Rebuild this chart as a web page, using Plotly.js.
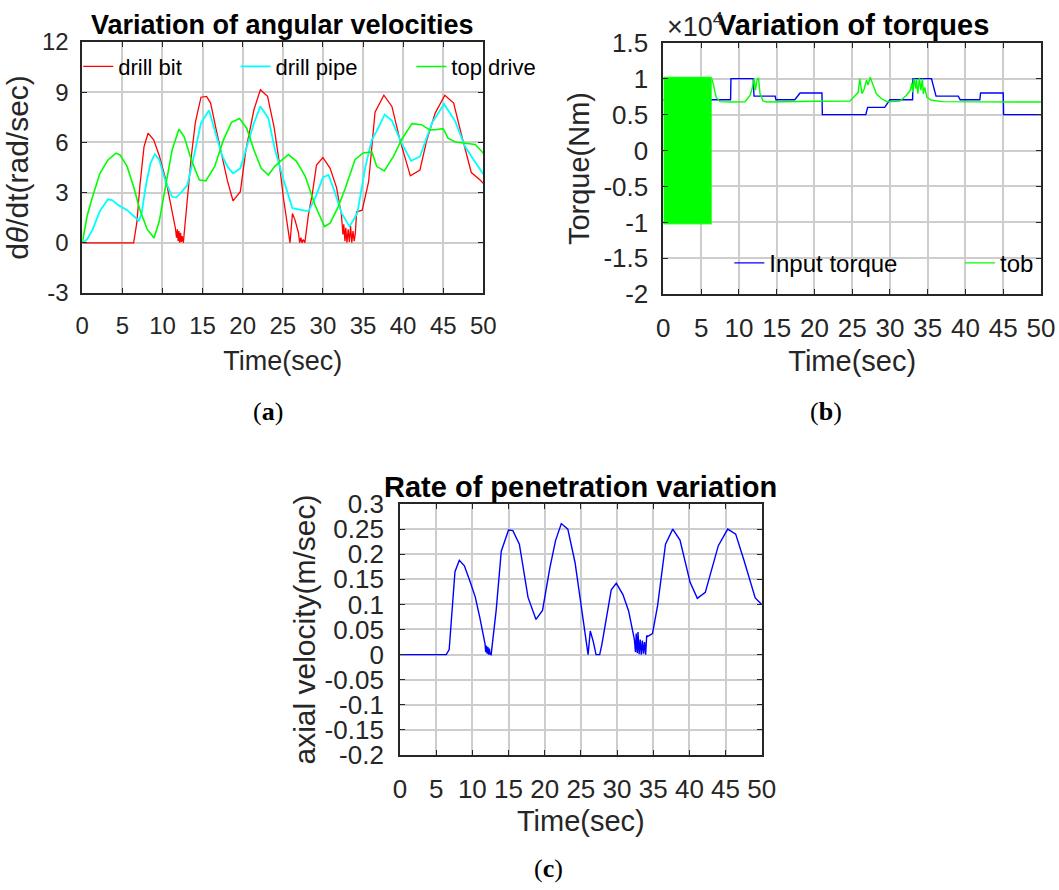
<!DOCTYPE html>
<html>
<head>
<meta charset="utf-8">
<script src="https://cdn.plot.ly/plotly-3.0.1.min.js"></script>
<style>
html,body{margin:0;padding:0;background:#ffffff;}
#chart{width:1059px;height:890px;}
</style>
</head>
<body>
<div id="chart"></div>
<script>
// ---------- Panel (a): angular velocities (rad/sec) ----------
const bitT = [0, 6.4, 6.8, 7.2, 7.7, 8.2, 8.9, 9.6, 10.4, 11.0,
  11.6, 11.75, 11.85, 11.95, 12.05, 12.15, 12.25, 12.35, 12.45, 12.6,
  13.1, 13.6, 14.1, 14.8, 15.5, 16.0, 16.7, 17.4, 18.1, 18.8,
  19.7, 20.4, 21.4, 22.2, 23.1, 23.9, 24.5, 25.1, 25.6, 25.9,
  26.2, 26.5, 26.95, 27.1, 27.25, 27.4, 27.55, 27.75, 28.2, 28.7,
  29.2, 30.0, 30.9, 31.7, 32.3, 32.5, 32.6, 32.75, 32.85, 33.0,
  33.15, 33.3, 33.45, 33.6, 33.75, 33.9, 34.05, 34.2, 34.9, 35.7,
  36.5, 37.6, 38.6, 39.6, 40.9, 42.1, 42.9, 44.0, 45.2, 46.3,
  47.3, 48.5, 49.6, 50];
const bitV = [0, 0, 1.2, 3.5, 5.75, 6.55, 6.15, 5.2, 3.8, 2.4,
  0.9, 0.3, 0.8, 0.1, 0.7, 0, 0.6, 0.05, 0.4, 0,
  2.6, 5.2, 7.2, 8.7, 8.75, 8.35, 6.75, 5.2, 3.7, 2.5,
  3.05, 5.55, 7.95, 9.15, 8.75, 6.95, 5.0, 2.6, 0.9, 0,
  1.75, 1.4, 0.6, 0, 0.3, 0, 0.2, 0, 1.7, 3.0,
  4.65, 5.1, 4.45, 3.3, 1.7, 0.5, 1.1, 0.1, 0.9, 0,
  0.8, 0.05, 1.0, 0, 0.7, 0.1, 0.6, 1.85, 1.95, 3.65,
  7.8, 8.82, 8.15, 6.15, 4.0, 4.35, 6.05, 7.75, 8.82, 8.35,
  6.4, 4.2, 3.75, 3.55];

const pipeT = [0, 0.6, 1.3, 2.2, 3.2, 3.7, 4.5, 5.6, 6.4, 7.05,
  7.4, 7.9, 8.5, 9.05, 9.6, 10.4, 11.2, 11.7, 12.4, 13.1,
  14.0, 14.8, 15.8, 16.5, 17.4, 18.1, 18.8, 19.7, 20.5, 21.4,
  22.2, 23.2, 24.0, 25.1, 26.2, 27.3, 28.2, 29.1, 30.0, 30.7,
  31.5, 32.3, 33.3, 33.8, 34.3, 35.3, 36.1, 36.7, 37.7, 38.6,
  39.8, 41.0, 42.1, 43.6, 45.1, 46.5, 47.7, 48.6, 49.6, 50];
const pipeV = [0, 0.2, 0.8, 1.9, 2.6, 2.55, 2.25, 1.95, 1.6, 1.32,
  1.75, 3.35, 4.75, 5.3, 4.95, 3.65, 2.75, 2.7, 3.05, 3.45,
  5.35, 7.15, 7.92, 6.75, 5.25, 4.55, 4.15, 4.45, 5.75, 7.15,
  8.15, 7.45, 5.6, 3.75, 2.07, 1.95, 1.88, 2.75, 3.9, 4.05,
  3.0, 1.8, 0.98, 1.35, 1.8, 4.55, 6.15, 6.67, 7.66, 7.3,
  5.96, 4.9, 5.16, 7.16, 8.3, 7.26, 5.77, 5.1, 4.37, 4.1];

const topT = [0, 0.6, 1.3, 2.2, 3.2, 4.2, 4.7, 5.6, 6.4, 7.2,
  8.1, 8.95, 9.6, 10.4, 11.2, 12.05, 12.7, 13.6, 14.6, 15.4,
  16.5, 17.6, 18.6, 19.6, 20.5, 21.4, 22.3, 23.2, 24.0, 24.9,
  25.7, 26.7, 27.8, 29.0, 30.2, 30.9, 31.9, 32.8, 34.0, 35.0,
  36.1, 36.7, 37.65, 38.8, 39.8, 41.1, 42.3, 43.3, 44.0, 45.0,
  45.6, 46.5, 47.9, 49.0, 50];
const topV = [0, 1.6, 2.8, 4.15, 4.95, 5.36, 5.25, 4.55, 3.35, 1.95,
  0.8, 0.29, 1.3, 3.35, 5.55, 6.79, 6.35, 4.95, 3.75, 3.7,
  4.55, 6.15, 7.2, 7.43, 6.85, 5.55, 4.45, 4.05, 4.57, 4.95,
  5.27, 4.87, 3.97, 2.27, 0.97, 1.17, 2.15, 3.27, 4.97, 5.37,
  5.43, 4.57, 4.3, 5.16, 6.16, 7.12, 7.06, 6.75, 6.76, 6.82,
  6.25, 6.02, 5.96, 5.87, 5.35];

// ---------- Panel (b): torques (Nm) ----------
const inputT = [0, 8.9, 8.95, 11.9, 12.0, 14.8, 14.9, 17.4, 18.1, 21.0,
  21.05, 26.8, 27.05, 29.3, 30.0, 33.0, 33.05, 35.5, 36.1, 39.05,
  39.3, 41.9, 42.0, 45.0, 45.05, 50];
const inputV = [7060, 7060, 10000, 10000, 7570, 7570, 7060, 7060, 8000, 8000,
  5000, 5000, 6000, 6000, 7060, 7060, 10000, 10000, 7570, 7570,
  7060, 7060, 8000, 8000, 5000, 5000];

// start-up torque-on-bit burst (oscillation envelope)
const burstT = [0, 6.4];
const burstHigh = [10200, 10200];
const burstLow = [-10200, -10200];

const tobT = [6.4, 6.6, 7.0, 7.5, 9.0, 10.8, 11.5, 11.8, 12.0, 12.2,
  12.4, 12.6, 12.8, 13.2, 13.7, 16.0, 20.0, 24.7, 25.2, 25.8,
  26.0, 26.3, 26.6, 26.9, 27.1, 27.4, 27.7, 28.2, 28.9, 29.6,
  31.3, 32.2, 32.7, 32.9, 33.0, 33.2, 33.4, 33.5, 33.7, 33.9,
  34.1, 34.3, 34.4, 34.6, 34.9, 35.5, 37.0, 42.0, 46.0, 50];
const tobV = [10000, 9300, 7400, 6800, 6750, 6780, 7700, 8800, 10000, 8400,
  9800, 10100, 7900, 6900, 6750, 6800, 6850, 6870, 7400, 8100,
  10000, 7900, 8600, 9800, 9100, 10200, 9300, 7900, 7200, 6800,
  6870, 7700, 8400, 9400, 8100, 10000, 8600, 9900, 7900, 10100,
  8400, 10000, 7900, 8800, 7400, 7000, 6800, 6800, 6780, 6750];

// ---------- Panel (c): rate of penetration (m/sec) ----------
const ropT = [0, 6.4, 6.8, 7.2, 7.6, 8.2, 8.9, 9.6, 10.4, 11.0,
  11.75, 11.85, 11.95, 12.05, 12.15, 12.25, 12.35, 12.45, 12.6, 13.3,
  14.0, 15.0, 15.6, 16.5, 17.7, 18.8, 19.7, 20.7, 21.5, 22.3,
  23.2, 24.2, 25.1, 26.0, 26.3, 26.7, 27.1, 27.6, 27.9, 29.2,
  29.9, 30.8, 31.6, 32.4, 32.55, 32.65, 32.8, 32.9, 33.05, 33.2,
  33.35, 33.5, 33.65, 33.8, 33.95, 34.1, 34.2, 34.9, 35.6, 36.7,
  37.7, 38.7, 40.1, 41.1, 42.2, 44.0, 45.3, 46.4, 47.5, 49.1, 50];
const ropV = [0, 0, 0.01, 0.096, 0.165, 0.188, 0.177, 0.149, 0.115, 0.076,
  0.022, 0.005, 0.018, 0.002, 0.015, 0, 0.012, 0.001, 0, 0.089,
  0.206, 0.248, 0.247, 0.22, 0.114, 0.07, 0.088, 0.172, 0.227, 0.261,
  0.25, 0.183, 0.093, 0, 0.047, 0.027, 0, 0, 0.02, 0.129,
  0.142, 0.12, 0.087, 0.03, 0.005, 0.042, 0.003, 0.045, 0.001, 0.03,
  0, 0.028, 0.002, 0.025, 0, 0.038, 0.036, 0.042, 0.097, 0.22,
  0.25, 0.228, 0.144, 0.112, 0.124, 0.217, 0.25, 0.24, 0.19, 0.113, 0.1];

// ---------- Tick labels ----------
const timeTicks = [0, 5, 10, 15, 20, 25, 30, 35, 40, 45, 50];
const timeTickText = ['0', '5', '10', '15', '20', '25', '30', '35', '40', '45', '50'];
const angTicks = [-3, 0, 3, 6, 9, 12];
const angTickText = ['-3', '0', '3', '6', '9', '12'];
const torqueTicks = [-20000, -15000, -10000, -5000, 0, 5000, 10000, 15000];
const torqueTickText = ['-2', '-1.5', '-1', '-0.5', '0', '0.5', '1', '1.5'];
const ropTicks = [-0.2, -0.15, -0.1, -0.05, 0, 0.05, 0.1, 0.15, 0.2, 0.25, 0.3];
const ropTickText = ['-0.2', '-0.15', '-0.1', '-0.05', '0', '0.05', '0.1', '0.15', '0.2', '0.25', '0.3'];

// ---------- Styling ----------
const FONT = 'Liberation Sans, Arial, Helvetica, sans-serif';
const SERIF = 'Liberation Serif, DejaVu Serif, serif';
const AXC = '#262626';

function axis(domain, anchor, range, tickvals, ticktext, tickSize, titleText, titleSize, standoff, labelStandoff) {
  return {
    domain: domain, anchor: anchor, range: range, autorange: false,
    tickmode: 'array', tickvals: tickvals, ticktext: ticktext,
    showline: true, linecolor: AXC, linewidth: 1.8, mirror: 'ticks',
    ticks: 'inside', ticklen: 5, tickwidth: 1.2, tickcolor: AXC,
    showgrid: true, gridcolor: '#cdcdcd', gridwidth: 1.6, zeroline: false,
    tickfont: {family: FONT, size: tickSize, color: AXC},
    ticklabelstandoff: labelStandoff,
    automargin: false, fixedrange: true,
    title: {text: titleText, font: {family: FONT, size: titleSize, color: AXC}, standoff: standoff}
  };
}

const data = [
  {x: bitT, y: bitV, type: 'scatter', mode: 'lines', name: 'drill bit',
   line: {color: '#ff0000', width: 1.3}, xaxis: 'x', yaxis: 'y', legend: 'legend'},
  {x: pipeT, y: pipeV, type: 'scatter', mode: 'lines', name: 'drill pipe',
   line: {color: '#00ffff', width: 1.8}, xaxis: 'x', yaxis: 'y', legend: 'legend2'},
  {x: topT, y: topV, type: 'scatter', mode: 'lines', name: 'top drive',
   line: {color: '#00ff00', width: 1.6}, xaxis: 'x', yaxis: 'y', legend: 'legend3'},

  {x: inputT, y: inputV, type: 'scatter', mode: 'lines', name: 'Input torque',
   line: {color: '#0000ff', width: 1.4}, xaxis: 'x2', yaxis: 'y2', legend: 'legend4'},
  {x: burstT, y: burstHigh, type: 'scatter', mode: 'lines', name: 'tob', showlegend: false,
   legendgroup: 'tob', line: {color: '#00ff00', width: 1}, xaxis: 'x2', yaxis: 'y2', hoverinfo: 'skip'},
  {x: burstT, y: burstLow, type: 'scatter', mode: 'lines', name: 'tob', showlegend: false,
   legendgroup: 'tob', fill: 'tonexty', fillcolor: '#00ff00', line: {color: '#00ff00', width: 1},
   xaxis: 'x2', yaxis: 'y2', hoverinfo: 'skip'},
  {x: tobT, y: tobV, type: 'scatter', mode: 'lines', name: 'tob', legendgroup: 'tob',
   line: {color: '#00ff00', width: 1.4}, xaxis: 'x2', yaxis: 'y2', legend: 'legend5'},

  {x: ropT, y: ropV, type: 'scatter', mode: 'lines', name: 'axial velocity', showlegend: false,
   line: {color: '#0000ff', width: 1.4}, xaxis: 'x3', yaxis: 'y3'}
];

function legendAt(x, y, size) {
  return {x: x, y: y, xanchor: 'left', yanchor: 'middle', orientation: 'h',
    bgcolor: 'rgba(0,0,0,0)', borderwidth: 0,
    font: {family: FONT, size: size, color: '#000000'}, itemclick: false, itemdoubleclick: false};
}

const layout = {
  width: 1059, height: 890,
  margin: {l: 0, r: 0, t: 0, b: 0, pad: 0},
  paper_bgcolor: '#ffffff', plot_bgcolor: '#ffffff',
  font: {family: FONT, color: AXC},
  showlegend: true,
  xaxis: axis([0.0777, 0.4564], 'y', [0, 50], timeTicks, timeTickText, 24, 'Time(sec)', 27, 13, 10),
  yaxis: axis([0.6708, 0.9528], 'x', [-3, 12], angTicks, angTickText, 24, 'd<i>θ</i>/dt(rad/sec)', 30, 4, 7),
  xaxis2: axis([0.6264, 0.9830], 'y2', [0, 50], timeTicks, timeTickText, 26, 'Time(sec)', 29, 8, 10),
  yaxis2: axis([0.6693, 0.9520], 'x2', [-20000, 15000], torqueTicks, torqueTickText, 26, 'Torque(Nm)', 29, 5, 8),
  xaxis3: axis([0.3777, 0.7193], 'y3', [0, 50], timeTicks, timeTickText, 26, 'Time(sec)', 29, 8, 10),
  yaxis3: axis([0.1517, 0.4337], 'x3', [-0.2, 0.3], ropTicks, ropTickText, 26, 'axial velocity(m/sec)', 30, 0, 9),
  legend: legendAt(0.0739, 0.9251, 22),
  legend2: legendAt(0.2224, 0.9251, 22),
  legend3: legendAt(0.3884, 0.9251, 22),
  legend4: legendAt(0.6887, 0.7042, 24),
  legend5: legendAt(0.9065, 0.7042, 24),
  annotations: [
    {text: 'Variation of angular velocities', xref: 'paper', yref: 'paper', x: 0.2666, y: 0.9720,
     xanchor: 'center', yanchor: 'middle', showarrow: false,
     font: {family: FONT, size: 27, color: '#000000', weight: 'bold'}},
    {text: 'Variation of torques', xref: 'paper', yref: 'paper', x: 0.8052, y: 0.9720,
     xanchor: 'center', yanchor: 'middle', showarrow: false,
     font: {family: FONT, size: 29, color: '#000000', weight: 'bold'}},
    {text: 'Rate of penetration variation', xref: 'paper', yref: 'paper', x: 0.5486, y: 0.4531,
     xanchor: 'center', yanchor: 'middle', showarrow: false,
     font: {family: FONT, size: 29, color: '#000000', weight: 'bold'}},
    {text: '×10<sup>4</sup>', xref: 'paper', yref: 'paper', x: 0.6280, y: 0.9719,
     xanchor: 'left', yanchor: 'middle', showarrow: false,
     font: {family: FONT, size: 27, color: AXC}},
    {text: '(<b>a</b>)', xref: 'paper', yref: 'paper', x: 0.2531, y: 0.5382,
     xanchor: 'center', yanchor: 'middle', showarrow: false,
     font: {family: SERIF, size: 26, color: '#000000'}},
    {text: '(<b>b</b>)', xref: 'paper', yref: 'paper', x: 0.7800, y: 0.5382,
     xanchor: 'center', yanchor: 'middle', showarrow: false,
     font: {family: SERIF, size: 26, color: '#000000'}},
    {text: '(<b>c</b>)', xref: 'paper', yref: 'paper', x: 0.5184, y: 0.0247,
     xanchor: 'center', yanchor: 'middle', showarrow: false,
     font: {family: SERIF, size: 26, color: '#000000'}}
  ]
};

Plotly.newPlot('chart', data, layout, {displayModeBar: false, responsive: false});
</script>
</body>
</html>
